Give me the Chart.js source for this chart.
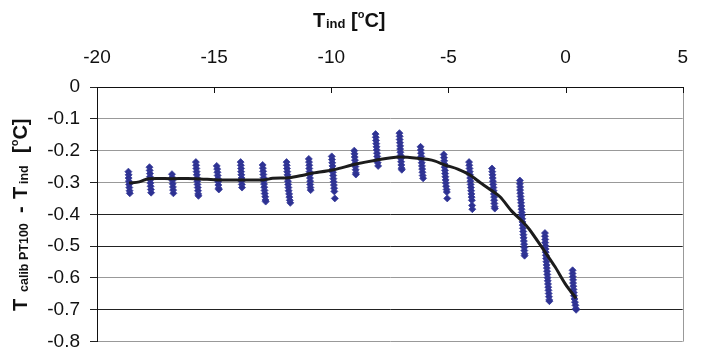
<!DOCTYPE html>
<html>
<head>
<meta charset="utf-8">
<script src="https://cdn.jsdelivr.net/npm/chart.js@4.4.1/dist/chart.umd.min.js"></script>
<style>
  html, body { margin: 0; padding: 0; background: #fff; }
  #wrap { width: 706px; height: 363px; }
</style>
</head>
<body>
<div id="wrap"><canvas id="chart" width="706" height="363"></canvas></div>
<script>
// Axis ticks
const xTicks = [-20, -15, -10, -5, 0, 5];
const yTicks = [0, -0.1, -0.2, -0.3, -0.4, -0.5, -0.6, -0.7, -0.8];

// Measured points, one column per set point (x = T_ind, y = T_calib - T_ind)
const pointClusters = [
    [[-18.66,-0.266],[-18.65,-0.276],[-18.65,-0.286],[-18.64,-0.296],[-18.63,-0.306],[-18.62,-0.316],[-18.61,-0.326],[-18.60,-0.334]],
    [[-17.76,-0.252],[-17.75,-0.262],[-17.74,-0.272],[-17.74,-0.282],[-17.73,-0.292],[-17.72,-0.302],[-17.71,-0.312],[-17.70,-0.322],[-17.69,-0.332]],
    [[-16.80,-0.274],[-16.79,-0.284],[-16.78,-0.294],[-16.77,-0.304],[-16.76,-0.314],[-16.75,-0.324],[-16.74,-0.334]],
    [[-15.78,-0.236],[-15.77,-0.246],[-15.76,-0.256],[-15.75,-0.266],[-15.74,-0.276],[-15.73,-0.286],[-15.72,-0.296],[-15.71,-0.306],[-15.70,-0.316],[-15.69,-0.326],[-15.68,-0.336],[-15.67,-0.342]],
    [[-14.89,-0.248],[-14.87,-0.258],[-14.86,-0.268],[-14.85,-0.278],[-14.84,-0.288],[-14.83,-0.298],[-14.82,-0.308],[-14.81,-0.318],[-14.80,-0.322]],
    [[-13.87,-0.236],[-13.86,-0.246],[-13.85,-0.256],[-13.85,-0.266],[-13.84,-0.276],[-13.83,-0.286],[-13.83,-0.296],[-13.82,-0.306],[-13.81,-0.316]],
    [[-12.93,-0.245],[-12.92,-0.255],[-12.91,-0.265],[-12.90,-0.275],[-12.89,-0.285],[-12.88,-0.295],[-12.87,-0.305],[-12.86,-0.315],[-12.85,-0.325],[-12.84,-0.335],[-12.82,-0.345],[-12.81,-0.355],[-12.80,-0.360]],
    [[-11.91,-0.236],[-11.90,-0.246],[-11.89,-0.256],[-11.88,-0.266],[-11.87,-0.276],[-11.86,-0.286],[-11.85,-0.296],[-11.84,-0.306],[-11.83,-0.316],[-11.82,-0.326],[-11.80,-0.336],[-11.79,-0.346],[-11.77,-0.356],[-11.75,-0.364]],
    [[-10.96,-0.226],[-10.95,-0.236],[-10.94,-0.246],[-10.94,-0.256],[-10.93,-0.266],[-10.92,-0.276],[-10.91,-0.286],[-10.90,-0.296],[-10.90,-0.306],[-10.89,-0.316],[-10.88,-0.324]],
    [[-9.98,-0.218],[-9.97,-0.228],[-9.96,-0.238],[-9.95,-0.248],[-9.94,-0.258],[-9.93,-0.268],[-9.92,-0.278],[-9.91,-0.288],[-9.90,-0.298],[-9.89,-0.308],[-9.88,-0.318],[-9.87,-0.328],[-9.85,-0.350]],
    [[-9.02,-0.200],[-9.01,-0.210],[-9.00,-0.220],[-8.99,-0.230],[-8.98,-0.240],[-8.97,-0.250],[-8.96,-0.260],[-8.95,-0.270],[-8.95,-0.275]],
    [[-8.11,-0.148],[-8.10,-0.158],[-8.09,-0.168],[-8.08,-0.178],[-8.07,-0.188],[-8.06,-0.198],[-8.05,-0.208],[-8.04,-0.218],[-8.03,-0.228],[-8.02,-0.238],[-8.00,-0.248]],
    [[-7.09,-0.145],[-7.08,-0.155],[-7.08,-0.165],[-7.07,-0.175],[-7.06,-0.185],[-7.06,-0.195],[-7.05,-0.205],[-7.04,-0.215],[-7.03,-0.225],[-7.02,-0.235],[-7.01,-0.245],[-7.00,-0.255],[-6.99,-0.260]],
    [[-6.19,-0.188],[-6.18,-0.198],[-6.17,-0.208],[-6.16,-0.218],[-6.15,-0.228],[-6.14,-0.238],[-6.13,-0.248],[-6.12,-0.258],[-6.11,-0.268],[-6.10,-0.278],[-6.08,-0.287]],
    [[-5.20,-0.212],[-5.19,-0.222],[-5.18,-0.232],[-5.17,-0.242],[-5.16,-0.252],[-5.15,-0.262],[-5.14,-0.272],[-5.13,-0.282],[-5.12,-0.292],[-5.11,-0.302],[-5.10,-0.312],[-5.08,-0.322],[-5.07,-0.330],[-5.05,-0.350]],
    [[-4.12,-0.236],[-4.11,-0.246],[-4.10,-0.256],[-4.09,-0.266],[-4.08,-0.276],[-4.07,-0.286],[-4.06,-0.296],[-4.05,-0.306],[-4.04,-0.316],[-4.03,-0.326],[-4.02,-0.336],[-4.01,-0.346],[-4.00,-0.356],[-3.99,-0.372],[-3.98,-0.384]],
    [[-3.14,-0.256],[-3.13,-0.266],[-3.12,-0.276],[-3.11,-0.286],[-3.10,-0.296],[-3.09,-0.306],[-3.08,-0.316],[-3.07,-0.326],[-3.06,-0.336],[-3.05,-0.346],[-3.05,-0.356],[-3.04,-0.366],[-3.03,-0.376],[-3.02,-0.382]],
    [[-1.95,-0.294],[-1.95,-0.304],[-1.94,-0.314],[-1.94,-0.324],[-1.93,-0.334],[-1.92,-0.344],[-1.91,-0.354],[-1.90,-0.364],[-1.89,-0.374],[-1.88,-0.384],[-1.87,-0.394],[-1.86,-0.404],[-1.85,-0.414],[-1.84,-0.424],[-1.83,-0.434],[-1.82,-0.444],[-1.81,-0.454],[-1.80,-0.464],[-1.79,-0.474],[-1.78,-0.484],[-1.77,-0.494],[-1.76,-0.504],[-1.76,-0.514],[-1.75,-0.524],[-1.75,-0.530]],
    [[-0.88,-0.459],[-0.88,-0.469],[-0.87,-0.479],[-0.87,-0.489],[-0.86,-0.499],[-0.85,-0.509],[-0.85,-0.519],[-0.84,-0.529],[-0.83,-0.539],[-0.82,-0.549],[-0.81,-0.559],[-0.80,-0.569],[-0.79,-0.579],[-0.78,-0.589],[-0.77,-0.599],[-0.76,-0.609],[-0.75,-0.619],[-0.74,-0.629],[-0.73,-0.639],[-0.72,-0.649],[-0.71,-0.659],[-0.70,-0.669],[-0.69,-0.673]],
    [[0.30,-0.576],[0.30,-0.586],[0.31,-0.596],[0.32,-0.606],[0.32,-0.616],[0.33,-0.626],[0.34,-0.636],[0.35,-0.646],[0.36,-0.656],[0.38,-0.666],[0.40,-0.676],[0.42,-0.686],[0.44,-0.696],[0.45,-0.700]]
];

// Fitted curve (black line)
const fitX = [-18.63, -18.2, -17.8, -16.8, -15.8, -14.8, -13.8, -12.9, -12.5, -11.8, -11.2, -10.9, -9.9, -9.0, -8.1, -7.1, -6.2, -5.6, -5.15, -4.6, -4.1, -3.65, -3.3, -2.8, -2.3, -1.85, -1.55, -1.0, -0.45, 0.0, 0.45];
const fitY = [-0.302, -0.298, -0.288, -0.288, -0.288, -0.292, -0.292, -0.292, -0.287, -0.285, -0.277, -0.272, -0.260, -0.243, -0.230, -0.220, -0.225, -0.232, -0.245, -0.258, -0.276, -0.300, -0.318, -0.345, -0.390, -0.422, -0.447, -0.505, -0.565, -0.620, -0.664];

const FONT = '"Liberation Sans", Arial, sans-serif';
const darkGrid = [-0.4, -0.5, -0.7];

// Axis titles with subscripts, inward x ticks and right border
const decorations = {
    id: 'decorations',
    afterDraw(chart) {
        const ctx = chart.ctx;
        const area = chart.chartArea;
        const xs = chart.scales.x;
        ctx.save();

        // inward ticks on the top axis
        ctx.strokeStyle = '#111';
        ctx.lineWidth = 1;
        xTicks.forEach(v => {
            const px = Math.round(xs.getPixelForValue(v)) + 0.5;
            ctx.beginPath();
            ctx.moveTo(px, area.top);
            ctx.lineTo(px, area.top + 6);
            ctx.stroke();
        });

        // right border
        ctx.strokeStyle = '#999';
        ctx.beginPath();
        ctx.moveTo(Math.round(area.right) + 0.5, area.top + 6);
        ctx.lineTo(Math.round(area.right) + 0.5, area.bottom);
        ctx.stroke();

        ctx.fillStyle = '#111';
        ctx.textBaseline = 'alphabetic';

        // draws text pieces along the baseline
        const pieces = (list) => {
            let x = 0;
            list.forEach(p => {
                if (p.at !== undefined) x = p.at;
                ctx.font = 'bold ' + p.size + 'px ' + FONT;
                ctx.fillText(p.text, x, p.dy || 0);
                x += ctx.measureText(p.text).width;
            });
        };

        // top title
        ctx.save();
        ctx.translate(0, 27);
        pieces([
            { text: 'T', size: 20, at: 313 },
            { text: 'ind', size: 13, at: 326, dy: 1 },
            { text: '[', size: 20, at: 351 },
            { text: 'o', size: 11, dy: -9 },
            { text: 'C]', size: 20 }
        ]);
        ctx.restore();

        // left title, rotated
        ctx.save();
        ctx.translate(27, 311);
        ctx.rotate(-Math.PI / 2);
        pieces([
            { text: 'T', size: 20, at: 0 },
            { text: 'calib PT100', size: 12.5, at: 19, dy: 1 },
            { text: '-', size: 20, at: 98 },
            { text: 'T', size: 20, at: 112 },
            { text: 'ind', size: 12.5, at: 127, dy: 1 },
            { text: '[', size: 20, at: 158 },
            { text: 'o', size: 11, dy: -9 },
            { text: 'C]', size: 20 }
        ]);
        ctx.restore();

        ctx.restore();
    }
};

const scatterData = [];
pointClusters.forEach(c => c.forEach(p => scatterData.push({ x: p[0], y: p[1] })));

new Chart(document.getElementById('chart'), {
    type: 'scatter',
    data: {
        datasets: [
            {
                type: 'line',
                label: 'fit',
                data: fitX.map((x, i) => ({ x, y: fitY[i] })),
                borderColor: '#1c1c1c',
                borderWidth: 3,
                tension: 0.3,
                pointRadius: 0,
                fill: false,
                order: 0
            },
            {
                label: 'measured',
                data: scatterData,
                pointStyle: 'rectRot',
                pointRadius: 3.5,
                pointBackgroundColor: '#2d3192',
                pointBorderColor: 'rgba(55,60,155,0.8)',
                pointBorderWidth: 1,
                order: 1
            }
        ]
    },
    options: {
        responsive: false,
        animation: false,
        layout: { padding: { left: 0, top: 0, right: 8, bottom: 10 } },
        plugins: { legend: { display: false }, tooltip: { enabled: false } },
        scales: {
            x: {
                type: 'linear',
                position: 'top',
                min: -20,
                max: 5,
                afterBuildTicks: s => { s.ticks = xTicks.map(v => ({ value: v })); },
                afterFit: s => { s.height = 87; },
                grid: { display: false, drawTicks: false },
                border: { display: true, color: '#111', width: 1 },
                ticks: { color: '#111', padding: 18, font: { family: FONT, size: 19 } }
            },
            y: {
                type: 'linear',
                min: -0.8,
                max: 0,
                afterBuildTicks: s => { s.ticks = yTicks.map(v => ({ value: v })); },
                afterFit: s => { s.width = 97; },
                grid: {
                    color: c => darkGrid.some(v => Math.abs(c.tick.value - v) < 1e-6) ? '#222' : '#999',
                    tickColor: '#222',
                    tickLength: 7,
                    drawTicks: true
                },
                border: { display: true, color: '#111', width: 1 },
                ticks: {
                    color: '#111',
                    padding: 10,
                    font: { family: FONT, size: 19 },
                    callback: v => String(Math.round(v * 10) / 10)
                }
            }
        }
    },
    plugins: [decorations]
});
</script>
</body>
</html>
